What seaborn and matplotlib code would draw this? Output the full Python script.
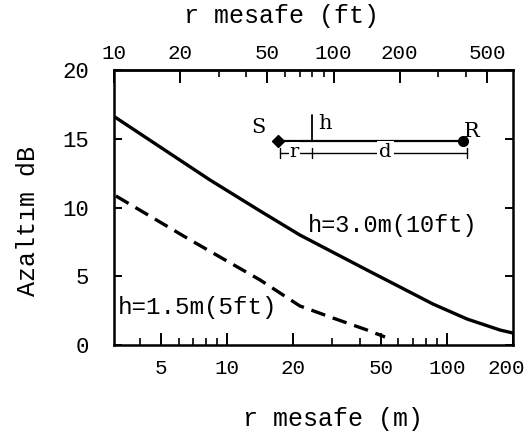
import matplotlib
matplotlib.use("Agg")
import matplotlib.pyplot as plt
from matplotlib.ticker import FixedLocator, NullFormatter, FixedFormatter
from matplotlib.transforms import ScaledTranslation
import pandas as pd
import seaborn as sns

# Attenuation vs. distance for two barrier heights
dist_h30 = [3.05, 8.34, 14.1, 21.4, 43.3, 61.1, 86.4, 123.5, 174.5, 200.0]
att_h30 = [16.62, 12.0, 9.75, 8.0, 5.45, 4.22, 2.98, 1.89, 1.09, 0.87]
dist_h15 = [3.11, 6.55, 9.26, 14.1, 21.4, 30.3, 43.3, 52.3]
att_h15 = [10.84, 7.78, 6.4, 4.73, 2.84, 1.96, 1.09, 0.58]
label_h30 = "h=3.0m(10ft)"
label_h15 = "h=1.5m(5ft)"

m_ticks = [5, 10, 20, 50, 100, 200]
m_minor = [4, 6, 7, 8, 9, 30, 40, 60, 70, 80, 90]
ft_ticks = [10, 20, 50, 100, 200, 500]
ft_minor = [30, 40, 60, 70, 80, 90, 300, 400]
db_ticks = [0, 5, 10, 15, 20]

df = pd.DataFrame({
    "r": dist_h30 + dist_h15,
    "att": att_h30 + att_h15,
    "h": ["3.0"] * len(dist_h30) + ["1.5"] * len(dist_h15),
})

sns.set_theme(style="white")
mono = ["Liberation Mono", "DejaVu Sans Mono"]
plt.rcParams["font.family"] = mono

fig = plt.figure(figsize=(5.28, 4.37), dpi=100)
ax = fig.add_axes([114 / 528, 92 / 437, 399 / 528, 275 / 437])

sns.lineplot(data=df, x="r", y="att", style="h", style_order=["3.0", "1.5"],
             dashes={"3.0": "", "1.5": (4.4, 2.4)}, color="black",
             linewidth=2.4, legend=False, ax=ax, sort=False)

ax.set_xscale("log")
ax.set_xlim(3.048, 200)
ax.set_ylim(0, 20)

for s in ax.spines.values():
    s.set_color("black")
    s.set_linewidth(1.8)

# bottom axis (metres)
ax.xaxis.set_major_locator(FixedLocator(m_ticks))
ax.xaxis.set_major_formatter(FixedFormatter([str(t) for t in m_ticks]))
ax.xaxis.set_minor_locator(FixedLocator(m_minor))
ax.xaxis.set_minor_formatter(NullFormatter())
ax.tick_params(axis="x", which="major", direction="in", length=9, width=1.4,
               bottom=True, top=False, labelsize=15, pad=10, colors="black")
ax.tick_params(axis="x", which="minor", direction="in", length=5, width=1.4,
               bottom=True, top=False)

# left / right axis
ax.set_yticks(db_ticks)
ax.set_yticklabels([str(t) for t in db_ticks])
ax.tick_params(axis="y", which="major", direction="in", length=6, width=1.4,
               left=True, right=True, labelsize=16, pad=18, colors="black")

ax.set_xlabel("r mesafe (m)", fontsize=18, color="black")
ax.xaxis.set_label_coords(0.55, -0.225)
ax.set_ylabel("Azaltım dB", fontsize=18, color="black")
ax.yaxis.set_label_coords(-0.185, 0.45)

# keep the last metre label inside the figure
last = ax.xaxis.get_major_ticks()[-1].label1
last.set_transform(last.get_transform() + ScaledTranslation(-0.07, 0, fig.dpi_scale_trans))

# top axis (feet)
secax = ax.secondary_xaxis("top", functions=(lambda m: m * 3.2808,
                                             lambda f: f / 3.2808))
secax.xaxis.set_major_locator(FixedLocator(ft_ticks))
secax.xaxis.set_major_formatter(FixedFormatter([str(t) for t in ft_ticks]))
secax.xaxis.set_minor_locator(FixedLocator(ft_minor))
secax.xaxis.set_minor_formatter(NullFormatter())
secax.tick_params(axis="x", which="major", direction="in", length=9, width=1.4,
                  labelsize=15, pad=5, colors="black")
secax.tick_params(axis="x", which="minor", direction="in", length=5, width=1.4)
secax.spines["top"].set_linewidth(1.8)
secax.set_xlabel("r mesafe (ft)", fontsize=18, color="black", labelpad=15)
secax.xaxis.label.set_x(0.42)

# curve labels
ax.text(0.486, 0.436, label_h30, transform=ax.transAxes, fontsize=17,
        ha="left", va="center", color="black")
ax.text(0.010, 0.135, label_h15, transform=ax.transAxes, fontsize=17.5,
        ha="left", va="center", color="black")

# source / receiver sketch
serif = ["DejaVu Serif"]
T = ax.transAxes
ax.plot([0.411, 0.875], [0.742, 0.742], color="black", lw=1.6, transform=T)
ax.plot([0.411], [0.742], marker="D", ms=6, color="black", transform=T)
ax.plot([0.875], [0.742], marker="o", ms=7, color="black", transform=T)
ax.plot([0.496, 0.496], [0.742, 0.836], color="black", lw=1.3, transform=T)
ax.plot([0.416, 0.885], [0.698, 0.698], color="black", lw=1.0, transform=T)
for fx in (0.416, 0.496, 0.885):
    ax.plot([fx, fx], [0.68, 0.716], color="black", lw=1.0, transform=T)
ax.text(0.361, 0.79, "S", transform=T, fontsize=15, family=serif,
        ha="center", va="center", color="black")
ax.text(0.897, 0.778, "R", transform=T, fontsize=15, family=serif,
        ha="center", va="center", color="black")
ax.text(0.529, 0.805, "h", transform=T, fontsize=15, family=serif,
        ha="center", va="center", color="black")
ax.text(0.452, 0.703, "r", transform=T, fontsize=14, family=serif,
        ha="center", va="center", color="black",
        bbox=dict(facecolor="white", edgecolor="none", pad=0.5))
ax.text(0.68, 0.703, "d", transform=T, fontsize=14, family=serif,
        ha="center", va="center", color="black",
        bbox=dict(facecolor="white", edgecolor="none", pad=1.5))

fig.savefig("out.png", dpi=100, facecolor="white")
